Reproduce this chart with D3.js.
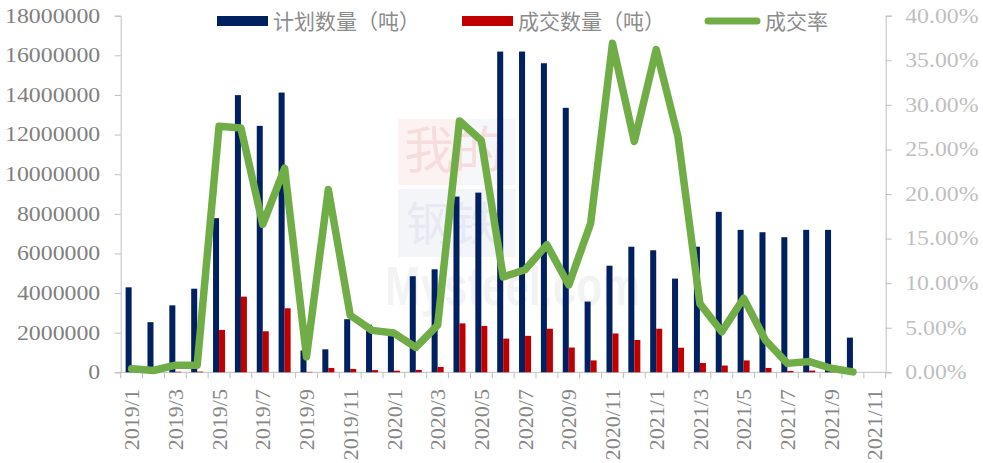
<!DOCTYPE html>
<html>
<head>
<meta charset="utf-8">
<script src="https://cdn.jsdelivr.net/npm/d3@7"></script>
<style>
  body { margin: 0; background: #fff; }
  svg { display: block; }
</style>
</head>
<body>
<div id="chart"></div>
<script>
// months 2019/1 .. 2021/11
var months = [];
[2019, 2020, 2021].forEach(function (y) {
    for (var m = 1; m <= 12; m++) {
        if (y === 2021 && m > 11) break;
        months.push(y + '/' + m);
    }
});

// 计划数量（吨）
var planQty = [4290000, 2530000, 3380000, 4220000, 7780000, 13990000, 12440000, 14120000,
    1100000, 1160000, 2680000, 2400000, 1900000, 4850000, 5200000, 8870000, 9070000,
    16190000, 16190000, 15600000, 13350000, 3570000, 5380000, 6340000, 6160000, 4730000,
    6340000, 8100000, 7190000, 7070000, 6820000, 7190000, 7190000, 1750000, null];

// 成交数量（吨）
var dealQty = [17000, 5000, 27000, 34000, 2140000, 3820000, 2070000, 3230000,
    19000, 220000, 170000, 110000, 80000, 120000, 270000, 2470000, 2340000,
    1700000, 1840000, 2200000, 1250000, 600000, 1960000, 1630000, 2200000, 1240000,
    470000, 340000, 600000, 220000, 70000, 86000, 30000, 2000, null];

// 成交率
var dealRate = [0.0040, 0.0020, 0.0080, 0.0080, 0.276, 0.274, 0.166, 0.229,
    0.0175, 0.205, 0.064, 0.047, 0.044, 0.028, 0.053, 0.282, 0.260,
    0.107, 0.115, 0.143, 0.098, 0.167, 0.369, 0.259, 0.362, 0.264,
    0.077, 0.0455, 0.083, 0.036, 0.010, 0.012, 0.0045, 0.0005, null];

var leftTicks = d3.range(0, 18000001, 2000000);
var rightTicks = d3.range(0, 0.4001, 0.05);
var legendNames = ['计划数量（吨）', '成交数量（吨）', '成交率'];

var colors = { plan: '#002060', deal: '#c00000', rate: '#70ad47' };
var axisColor = '#bfbfbf';
var numFont = '"Liberation Serif", "Times New Roman", serif';
var cjkFont = '"Noto Sans CJK SC", "Noto Sans", sans-serif';
var stretch = 1.19;

var width = 983, height = 463;
var plot = { left: 120.7, right: 885.7, top: 15.7, bottom: 372.3 };

var svg = d3.select('#chart').append('svg')
    .attr('width', width)
    .attr('height', height);

svg.append('rect').attr('width', width).attr('height', height).attr('fill', '#fff');

var x = d3.scaleBand().domain(months).range([plot.left, plot.right]).padding(0);
var yL = d3.scaleLinear().domain([0, 18000000]).range([plot.bottom, plot.top]);
var yR = d3.scaleLinear().domain([0, 0.4]).range([plot.bottom, plot.top]);

// faint watermark
var wm = svg.append('g').attr('class', 'watermark');
wm.append('rect').attr('x', 398).attr('y', 119).attr('width', 64).attr('height', 66).attr('fill', '#fdf2f2');
wm.append('rect').attr('x', 462).attr('y', 119).attr('width', 54).attr('height', 66).attr('fill', '#f6f7fa');
wm.append('rect').attr('x', 398).attr('y', 189).attr('width', 118).attr('height', 68).attr('fill', '#f4f5f9');
wm.append('text').attr('x', 404).attr('y', 168).style('font-family', cjkFont).style('font-size', '50px')
    .attr('fill', '#f6dcdc').text('我的');
wm.append('text').attr('x', 406).attr('y', 240).style('font-family', cjkFont).style('font-size', '46px')
    .attr('fill', '#e6e9f1').text('钢铁');
wm.append('text').attr('x', 385).attr('y', 305).style('font-family', '"Liberation Sans", sans-serif')
    .style('font-size', '56px').style('font-weight', 'bold')
    .attr('textLength', 255).attr('lengthAdjust', 'spacingAndGlyphs')
    .attr('fill', '#f3f3f3').text('Mysteel.com');

// left axis
var leftAxis = svg.append('g')
    .attr('transform', 'translate(' + plot.left + ',0)')
    .call(d3.axisLeft(yL).tickValues(leftTicks).tickFormat(d3.format('d')).tickSizeOuter(0).tickSize(6));
leftAxis.select('.domain').attr('stroke', axisColor);
leftAxis.selectAll('.tick line').attr('stroke', axisColor);
leftAxis.selectAll('.tick text')
    .attr('x', -20.5 / stretch)
    .attr('transform', 'scale(' + stretch + ',1)')
    .attr('fill', '#808080')
    .style('font-family', numFont)
    .style('font-size', '20px');

// right axis
var rightAxis = svg.append('g')
    .attr('transform', 'translate(' + plot.right + ',0)')
    .call(d3.axisRight(yR).tickValues(rightTicks).tickFormat(d3.format('.2%')).tickSizeOuter(0).tickSize(6));
rightAxis.select('.domain').attr('stroke', axisColor);
rightAxis.selectAll('.tick line').attr('stroke', axisColor);
rightAxis.selectAll('.tick text')
    .attr('x', 19.5 / stretch)
    .attr('transform', 'scale(' + stretch + ',1)')
    .attr('fill', '#bfbfbf')
    .style('font-family', numFont)
    .style('font-size', '20px');

// bottom axis: ticks at every category boundary, labels every 2 months
var xAxis = svg.append('g').attr('class', 'x_axis');
xAxis.append('line')
    .attr('x1', plot.left).attr('x2', plot.right)
    .attr('y1', plot.bottom).attr('y2', plot.bottom)
    .attr('stroke', axisColor);
xAxis.selectAll('.x_tick')
    .data(months.concat(['end']))
    .enter().append('line')
    .attr('class', 'x_tick')
    .attr('x1', function (d, i) { return plot.left + i * x.step(); })
    .attr('x2', function (d, i) { return plot.left + i * x.step(); })
    .attr('y1', plot.bottom)
    .attr('y2', plot.bottom + 6)
    .attr('stroke', axisColor);
xAxis.selectAll('.x_label')
    .data(months.filter(function (d, i) { return i % 2 === 0; }))
    .enter().append('text')
    .attr('class', 'x_label')
    .attr('transform', function (d) {
        return 'translate(' + (x(d) + x.bandwidth() / 2) + ',' + 389 + ') rotate(-90)';
    })
    .attr('dy', '0.35em')
    .attr('text-anchor', 'end')
    .attr('fill', '#858585')
    .style('font-family', numFont)
    .style('font-size', '22px')
    .text(function (d) { return d; });

// bars
var bw = x.bandwidth() * 0.275;
svg.selectAll('.plan_bar')
    .data(months.map(function (m, i) { return { m: m, v: planQty[i] }; }).filter(function (d) { return d.v != null; }))
    .enter().append('rect')
    .attr('class', 'plan_bar')
    .attr('x', function (d) { return x(d.m) + x.bandwidth() / 2 - bw; })
    .attr('y', function (d) { return yL(d.v); })
    .attr('width', bw)
    .attr('height', function (d) { return yL(0) - yL(d.v); })
    .attr('fill', colors.plan);

svg.selectAll('.deal_bar')
    .data(months.map(function (m, i) { return { m: m, v: dealQty[i] }; }).filter(function (d) { return d.v != null; }))
    .enter().append('rect')
    .attr('class', 'deal_bar')
    .attr('x', function (d) { return x(d.m) + x.bandwidth() / 2; })
    .attr('y', function (d) { return yL(d.v); })
    .attr('width', bw)
    .attr('height', function (d) { return yL(0) - yL(d.v); })
    .attr('fill', colors.deal);

// rate line
var rateLine = d3.line()
    .defined(function (d) { return d.v != null; })
    .x(function (d) { return x(d.m) + x.bandwidth() / 2; })
    .y(function (d) { return yR(d.v); });

svg.append('path')
    .datum(months.map(function (m, i) { return { m: m, v: dealRate[i] }; }))
    .attr('d', rateLine)
    .attr('fill', 'none')
    .attr('stroke', colors.rate)
    .attr('stroke-width', 7.5)
    .attr('stroke-linejoin', 'round')
    .attr('stroke-linecap', 'round');

// legend
var legend = svg.append('g').attr('class', 'legend');
var legendItems = [
    { name: legendNames[0], kind: 'rect', color: colors.plan, x: 217, tx: 273 },
    { name: legendNames[1], kind: 'rect', color: colors.deal, x: 462, tx: 518 },
    { name: legendNames[2], kind: 'line', color: colors.rate, x: 705, tx: 765 }
];
legendItems.forEach(function (d) {
    if (d.kind === 'rect') {
        legend.append('rect')
            .attr('x', d.x).attr('y', 16)
            .attr('width', 51).attr('height', 10)
            .attr('fill', d.color);
    } else {
        legend.append('line')
            .attr('x1', d.x + 3).attr('x2', d.x + 52)
            .attr('y1', 21).attr('y2', 21)
            .attr('stroke', d.color)
            .attr('stroke-width', 7)
            .attr('stroke-linecap', 'round');
    }
    legend.append('text')
        .attr('x', d.tx).attr('y', 21)
        .attr('dy', '0.36em')
        .attr('fill', '#8c8c8c')
        .style('font-family', cjkFont)
        .style('font-size', '21px')
        .text(d.name);
});
</script>
</body>
</html>
